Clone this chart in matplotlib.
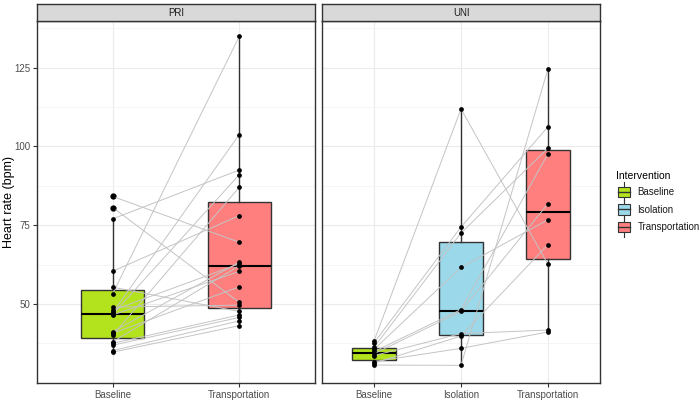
import numpy as np
import matplotlib
matplotlib.use("Agg")
import matplotlib.pyplot as plt
from matplotlib.legend_handler import HandlerBase
from matplotlib.patches import Rectangle, Patch
from matplotlib.lines import Line2D

plt.rcParams["font.family"] = ["Liberation Sans", "DejaVu Sans"]

# PRI: paired by index (Baseline -> Transportation)
pri_baseline = [84.1, 80.6, 77.0, 60.4, 55.3, 53.3, 49.0, 48.0, 47.3, 46.7,
                46.5, 41.2, 40.7, 40.1, 38.0, 37.5, 36.9, 35.2, 34.7]
pri_transport = [69.6, 50.5, 92.5, 78.0, 47.6, 134.9, 49.6, 62.7, 103.7, 91.0,
                 60.3, 63.2, 55.4, 87.0, 62.1, 46.5, 45.7, 44.6, 43.1]

# UNI: paired by index (Baseline -> Isolation -> Transportation)
uni_baseline = [38.3, 37.7, 36.3, 35.6, 34.9, 34.2, 33.6, 31.7, 31.2, 30.6]
uni_isolation = [111.9, 74.4, 72.5, 61.6, 48.2, 47.6, 40.6, 35.9, 39.8, 30.5]
uni_transport = [62.6, 106.2, 99.4, 76.7, 97.6, 81.8, 41.7, 41.1, 68.8, 124.5]

colors = {"Baseline": "#B3E31C", "Isolation": "#9AD8EA", "Transportation": "#FF7F7F"}

panels = [
    ("PRI", ["Baseline", "Transportation"], [pri_baseline, pri_transport]),
    ("UNI", ["Baseline", "Isolation", "Transportation"],
     [uni_baseline, uni_isolation, uni_transport]),
]

fig = plt.figure(figsize=(7, 4), dpi=100)
lefts = [37 / 700, 322 / 700]
width = 278 / 700
bottom = 1 - 383 / 400
height = (383 - 21) / 400
strip_h = 17 / 400

for i, (name, cats, series) in enumerate(panels):
    ax = fig.add_axes([lefts[i], bottom, width, height])
    pos = np.arange(1, len(cats) + 1)

    bp = ax.boxplot(series, positions=pos, widths=0.5, whis=1.6, patch_artist=True,
                    showcaps=False, manage_ticks=False,
                    boxprops=dict(edgecolor="#333333", linewidth=1.0),
                    whiskerprops=dict(color="#333333", linewidth=1.0),
                    medianprops=dict(color="black", linewidth=1.5),
                    flierprops=dict(marker="o", markerfacecolor="black",
                                    markeredgecolor="black", markersize=3.5),
                    zorder=1)
    for patch, c in zip(bp["boxes"], cats):
        patch.set_facecolor(colors[c])

    data = np.array(series)
    for j in range(data.shape[1]):
        ax.plot(pos, data[:, j], color="#C4C4C4", linewidth=0.7, zorder=2)
    for p, vals in zip(pos, series):
        ax.plot([p] * len(vals), vals, "o", color="black", markersize=2.4,
                linestyle="none", zorder=3)

    ax.set_xlim(0.4, len(cats) + 0.6)
    ax.set_ylim(24.9, 139.8)
    ax.set_xticks(pos)
    ax.set_xticklabels(cats)
    ax.set_yticks([50, 75, 100, 125])
    ax.set_yticks([37.5, 62.5, 87.5, 112.5, 137.5], minor=True)
    ax.grid(True, which="major", color="#EBEBEB", linewidth=0.8, zorder=0)
    ax.grid(True, which="minor", color="#F2F2F2", linewidth=0.5, zorder=0)
    ax.set_axisbelow(True)
    ax.tick_params(axis="both", which="major", length=3, color="#333333",
                   labelsize=7, labelcolor="#4D4D4D", pad=2)
    ax.tick_params(axis="both", which="minor", length=0)
    for s in ax.spines.values():
        s.set_color("#333333")
        s.set_linewidth(1.0)
    if i == 0:
        ax.set_ylabel("Heart rate (bpm)", fontsize=9, color="black")
        ax.yaxis.set_label_coords(-22 / 278, 0.5)
    else:
        ax.set_yticklabels([])
        ax.tick_params(axis="y", which="major", length=0)

    sax = fig.add_axes([lefts[i], bottom + height, width, strip_h])
    sax.set_facecolor("#D9D9D9")
    sax.set_xticks([])
    sax.set_yticks([])
    for s in sax.spines.values():
        s.set_color("#333333")
        s.set_linewidth(1.0)
    sax.text(0.5, 0.5, name, ha="center", va="center", fontsize=7, color="#1A1A1A",
             transform=sax.transAxes)


class BoxKey(HandlerBase):
    def create_artists(self, legend, orig_handle, xdescent, ydescent, width, height,
                       fontsize, trans):
        cx = width / 2 - xdescent
        h = height + 6
        y0 = -ydescent - 3
        line = Line2D([cx, cx], [y0, y0 + h], color="#333333", linewidth=0.8, transform=trans)
        rect = Rectangle((cx - width * 0.4, y0 + h * 0.25), width * 0.8, h * 0.5,
                         facecolor=orig_handle.get_facecolor(), edgecolor="#333333",
                         linewidth=0.8, transform=trans)
        mid = Line2D([cx - width * 0.4, cx + width * 0.4], [y0 + h / 2, y0 + h / 2],
                     color="#333333", linewidth=1.0, transform=trans)
        return [line, rect, mid]


handles = [Patch(facecolor=colors[c]) for c in ["Baseline", "Isolation", "Transportation"]]
leg = fig.legend(handles, ["Baseline", "Isolation", "Transportation"],
                 handler_map={Patch: BoxKey()}, title="Intervention",
                 loc="upper left", bbox_to_anchor=(616 / 700, 1 - 171 / 400),
                 frameon=False, fontsize=7, title_fontsize=7.5, borderpad=0,
                 borderaxespad=0, handlelength=1.6, handleheight=1.5,
                 handletextpad=0.6, labelspacing=0.55)
leg._legend_box.align = "left"
for t in leg.get_texts():
    t.set_color("#1A1A1A")

plt.savefig("out.png", dpi=100)
